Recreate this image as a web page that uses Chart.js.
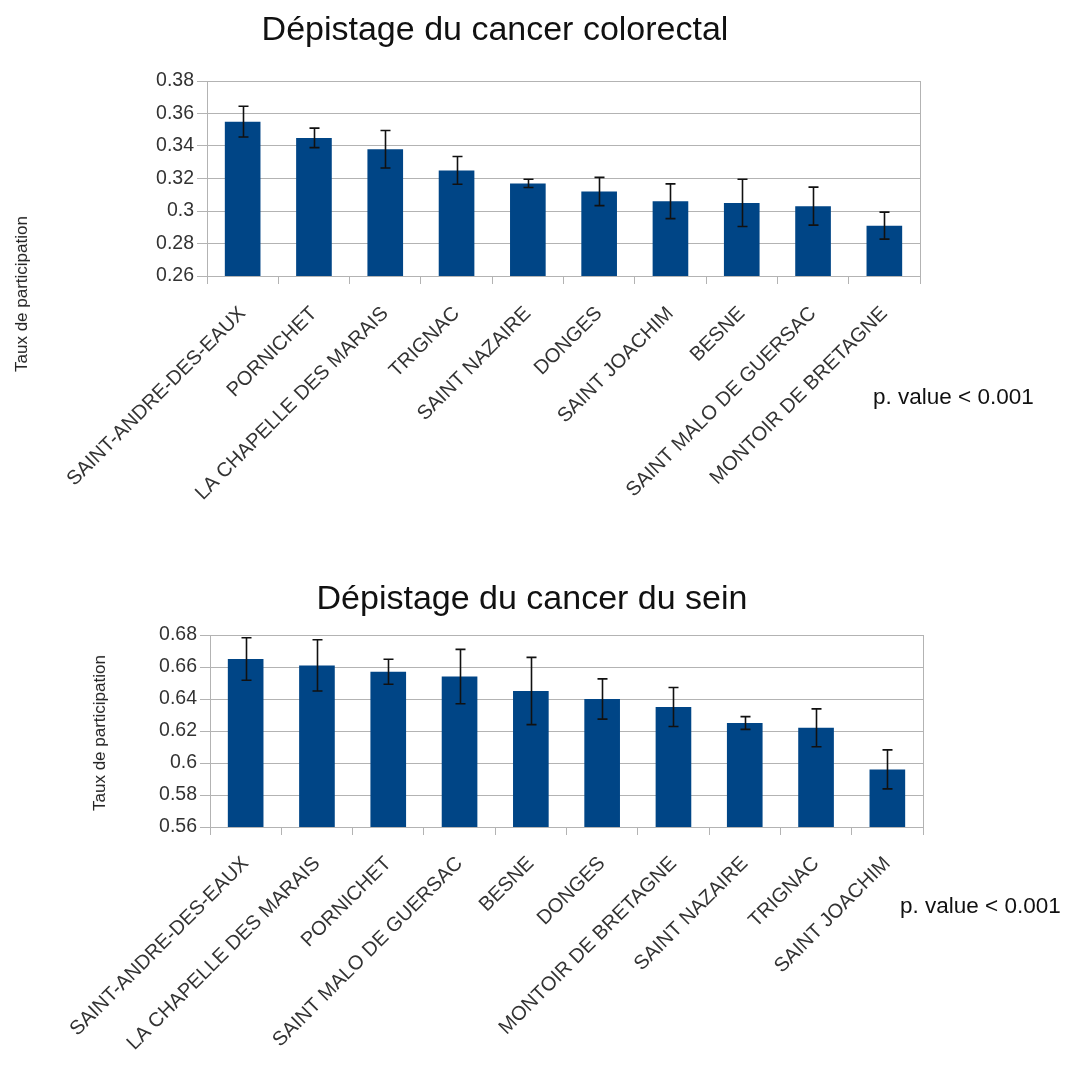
<!DOCTYPE html>
<html>
<head>
<meta charset="utf-8">
<script src="https://cdn.jsdelivr.net/npm/chart.js@4/dist/chart.umd.min.js"></script>
<style>
  html, body { margin: 0; padding: 0; background: #fff; }
  body { width: 1067px; height: 1091px; position: relative; overflow: hidden; font-family: "Liberation Sans", Arial, sans-serif; }
  .title { position: absolute; font-size: 34px; color: #111; white-space: nowrap; transform: translate(-50%, -50%); }
  .pval { position: absolute; font-size: 22.5px; color: #111; white-space: nowrap; transform: translateY(-50%); }
  .ytitle { position: absolute; font-size: 17px; color: #222; white-space: nowrap; line-height: 20px; }
  canvas { position: absolute; left: 0; }
</style>
</head>
<body>
<canvas id="c1" width="1067" height="540" style="top:0px; width:1067px; height:540px;"></canvas>
<canvas id="c2" width="1067" height="531" style="top:560px; width:1067px; height:531px;"></canvas>
<div class="title" style="left:495px; top:28px;">Dépistage du cancer colorectal</div>
<div class="title" style="left:532px; top:597px;">Dépistage du cancer du sein</div>
<div class="ytitle" id="yt1" style="left:22px; top:294px;"></div>
<div class="ytitle" id="yt2" style="left:100px; top:733px;"></div>
<div class="pval" style="left:873px; top:397px;">p. value &lt; 0.001</div>
<div class="pval" style="left:900px; top:906px;">p. value &lt; 0.001</div>
<script>
// ---- Data ----
const coloCategories = ['SAINT-ANDRE-DES-EAUX','PORNICHET','LA CHAPELLE DES MARAIS','TRIGNAC','SAINT NAZAIRE','DONGES','SAINT JOACHIM','BESNE','SAINT MALO DE GUERSAC','MONTOIR DE BRETAGNE'];
const coloValues = [0.355, 0.345, 0.338, 0.325, 0.317, 0.312, 0.306, 0.305, 0.303, 0.291];
const coloErrors = [0.0095, 0.006, 0.0115, 0.0085, 0.0025, 0.0087, 0.0107, 0.0145, 0.0117, 0.0083];
const coloTicks = { min: 0.26, max: 0.38, step: 0.02 };

const seinCategories = ['SAINT-ANDRE-DES-EAUX','LA CHAPELLE DES MARAIS','PORNICHET','SAINT MALO DE GUERSAC','BESNE','DONGES','MONTOIR DE BRETAGNE','SAINT NAZAIRE','TRIGNAC','SAINT JOACHIM'];
const seinValues = [0.665, 0.661, 0.657, 0.654, 0.645, 0.640, 0.635, 0.625, 0.622, 0.596];
const seinErrors = [0.0133, 0.016, 0.0078, 0.017, 0.021, 0.0126, 0.0122, 0.004, 0.0118, 0.0122];
const seinTicks = { min: 0.56, max: 0.68, step: 0.02 };

const yTitle = 'Taux de participation';

// Center rotated axis titles on their anchor points
['yt1', 'yt2'].forEach(id => {
  const el = document.getElementById(id);
  el.textContent = yTitle;
  const w = el.offsetWidth, h = el.offsetHeight;
  const cx = parseFloat(el.style.left), cy = parseFloat(el.style.top);
  el.style.left = Math.round(cx - w / 2) + 'px';
  el.style.top = Math.round(cy - h / 2) + 'px';
  el.style.transform = 'rotate(-90deg)';
});

// ---- Style ----
const BAR = '#004586';
const GRID = '#b3b3b3';
const TEXT = '#333333';
const FONT = '"Liberation Sans", Arial, sans-serif';

const errorBars = {
  id: 'errorBars',
  afterDatasetsDraw(chart) {
    const ctx = chart.ctx;
    const y = chart.scales.y;
    const ds = chart.data.datasets[0];
    const meta = chart.getDatasetMeta(0);
    ctx.save();
    ctx.strokeStyle = '#111';
    ctx.lineWidth = 1.6;
    meta.data.forEach((bar, i) => {
      const v = ds.data[i], e = ds.errors[i];
      const t = y.getPixelForValue(v + e), b = y.getPixelForValue(v - e);
      const x = Math.round(bar.x) + 0.5;
      ctx.beginPath();
      ctx.moveTo(x, t); ctx.lineTo(x, b);
      ctx.moveTo(x - 5, t); ctx.lineTo(x + 5, t);
      ctx.moveTo(x - 5, b); ctx.lineTo(x + 5, b);
      ctx.stroke();
    });
    ctx.restore();
  }
};

function makeChart(id, cats, vals, errs, ticks, geo) {
  return new Chart(document.getElementById(id), {
    type: 'bar',
    data: {
      labels: cats,
      datasets: [{ data: vals, errors: errs, backgroundColor: BAR, borderWidth: 0, barPercentage: 0.5, categoryPercentage: 1.0 }]
    },
    options: {
      responsive: false,
      animation: false,
      events: [],
      layout: { padding: { top: geo.top, left: geo.left, right: geo.right, bottom: 0 } },
      plugins: { legend: { display: false }, tooltip: { enabled: false }, title: { display: false } },
      scales: {
        x: {
          grid: {
            offset: true,
            drawOnChartArea: true,
            color: c => (c.type === 'scale') ? GRID : 'rgba(0,0,0,0)',
            tickColor: GRID,
            tickLength: 8,
            lineWidth: 1
          },
          border: { display: true, color: GRID },
          ticks: {
            autoSkip: false, minRotation: 45, maxRotation: 45,
            color: TEXT, padding: geo.xpad,
            font: { family: FONT, size: 20 }
          },
          afterFit: s => { s.height = geo.xh; }
        },
        y: {
          min: ticks.min, max: ticks.max,
          grid: { color: GRID, tickColor: GRID, tickLength: 10, lineWidth: 1 },
          border: { display: true, color: GRID },
          ticks: {
            stepSize: ticks.step, color: TEXT, padding: 3,
            font: { family: FONT, size: 19.5 },
            callback: v => String(Number(v.toFixed(2)))
          },
          afterFit: s => { s.width = geo.yw; }
        }
      }
    },
    plugins: [errorBars]
  });
}

makeChart('c1', coloCategories, coloValues, coloErrors, coloTicks,
  { top: 81, left: 0, right: 147, yw: 207, xh: 264, xpad: 18 });
makeChart('c2', seinCategories, seinValues, seinErrors, seinTicks,
  { top: 75, left: 0, right: 144, yw: 210, xh: 264, xpad: 17 });
</script>
</body>
</html>
